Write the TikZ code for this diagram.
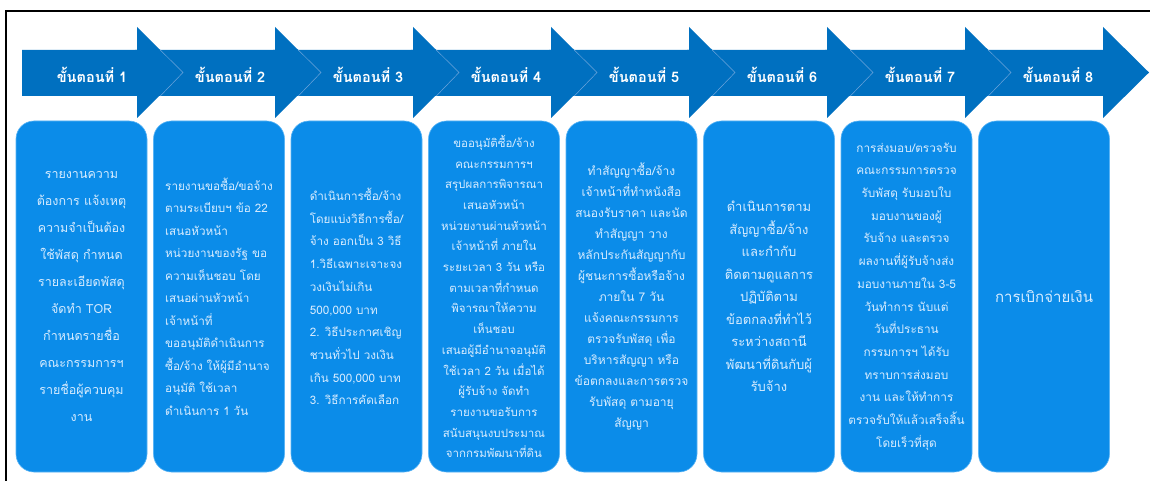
\documentclass[tikz,border=0pt]{standalone}
\usepackage{fontspec}
\newfontfamily\thaifont[Script=Thai]{Loma}
\definecolor{arrowblue}{RGB}{0,112,192}
\definecolor{arrowedge}{RGB}{110,165,220}
\definecolor{boxblue}{RGB}{11,140,233}
\definecolor{boxedge}{RGB}{90,180,245}
\definecolor{boxtext}{RGB}{215,236,255}
\begin{document}
\begin{tikzpicture}[x=1pt,y=-1pt,
  stepbox/.style={draw=boxedge, line width=0.6pt, fill=boxblue, rounded corners=18pt,
    minimum width=131pt, minimum height=351pt, inner sep=0pt, text=boxtext},
  steplabel/.style={text=white, font=\thaifont\bfseries\fontsize{14.5}{16}\selectfont, inner sep=0pt},
  arrowbody/.style={fill=arrowblue},
  notch/.style={draw=arrowedge, line width=0.5pt}]
\useasboundingbox (0,0) rectangle (1150,481);
\fill[white] (0,0) rectangle (1150,481);
\draw[line width=2pt] (6,481) -- (6,11) -- (1150,11);
% arrows, drawn from last to first so that each tip lies on the next shaft
\foreach \k in {8,7,...,1} {
  \pgfmathsetmacro\b{137+138*(\k-1)}
  \pgfmathsetmacro\s{\k==1 ? 22 : \b-140}
  \fill[arrowbody] (\s,50) -- (\b,50) -- (\b,27) -- (\b+46,72.5) -- (\b,118) -- (\b,96) -- (\s,96) -- cycle;
  \ifnum\k<8
    \draw[notch] (\b+23.3,50) -- (\b+46,72.5) -- (\b+23.3,96);
  \fi
  \node[steplabel] (lab\k) at (\b-45,75) {ขั้นตอนที่ \k};
}
% boxes
\node[stepbox, align=center, font=\thaifont\fontsize{12.5}{27}\selectfont] (box1) at (81.5,296.5)
{รายงานความ\\ต้องการ แจ้งเหตุ\\ความจำเป็นต้อง\\ใช้พัสดุ กำหนด\\รายละเอียดพัสดุ\\จัดทำ TOR\\กำหนดรายชื่อ\\คณะกรรมการฯ\\รายชื่อผู้ควบคุม\\งาน};
\node[stepbox, align=left, font=\thaifont\fontsize{11.7}{22.5}\selectfont] (box2) at (219,296.5)
{รายงานขอซื้อ/ขอจ้าง\\ตามระเบียบฯ ข้อ 22\\เสนอหัวหน้า\\หน่วยงานของรัฐ ขอ\\ความเห็นชอบ โดย\\เสนอผ่านหัวหน้า\\เจ้าหน้าที่\\ขออนุมัติดำเนินการ\\ซื้อ/จ้าง ให้ผู้มีอำนาจ\\อนุมัติ ใช้เวลา\\ดำเนินการ 1 วัน};
\node[stepbox, align=left, font=\thaifont\fontsize{11.7}{22.7}\selectfont] (box3) at (356.5,296.5)
{ดำเนินการซื้อ/จ้าง\\โดยแบ่งวิธีการซื้อ/\\จ้าง ออกเป็น 3 วิธี\\1.วิธีเฉพาะเจาะจง\\วงเงินไม่เกิน\\500,000 บาท\\2. วิธีประกาศเชิญ\\ชวนทั่วไป วงเงิน\\เกิน 500,000 บาท\\3. วิธีการคัดเลือก};
\node[stepbox, align=center, font=\thaifont\fontsize{11.5}{20.7}\selectfont] (box4) at (494,296.5)
{ขออนุมัติซื้อ/จ้าง\\คณะกรรมการฯ\\สรุปผลการพิจารณา\\เสนอหัวหน้า\\หน่วยงานผ่านหัวหน้า\\เจ้าหน้าที่ ภายใน\\ระยะเวลา 3 วัน หรือ\\ตามเวลาที่กำหนด\\พิจารณาให้ความ\\เห็นชอบ\\เสนอผู้มีอำนาจอนุมัติ\\ใช้เวลา 2 วัน เมื่อได้\\ผู้รับจ้าง จัดทำ\\รายงานขอรับการ\\สนับสนุนงบประมาณ\\จากกรมพัฒนาที่ดิน};
\node[stepbox, align=center, font=\thaifont\fontsize{12}{21}\selectfont] (box5) at (631.5,296.5)
{ทำสัญญาซื้อ/จ้าง\\เจ้าหน้าที่ทำหนังสือ\\สนองรับราคา และนัด\\ทำสัญญา วาง\\หลักประกันสัญญากับ\\ผู้ชนะการซื้อหรือจ้าง\\ภายใน 7 วัน\\แจ้งคณะกรรมการ\\ตรวจรับพัสดุ เพื่อ\\บริหารสัญญา หรือ\\ข้อตกลงและการตรวจ\\รับพัสดุ ตามอายุ\\สัญญา};
\node[stepbox, align=center, font=\thaifont\fontsize{13}{22.5}\selectfont] (box6) at (769,296.5)
{ดำเนินการตาม\\สัญญาซื้อ/จ้าง\\และกำกับ\\ติดตามดูแลการ\\ปฏิบัติตาม\\ข้อตกลงที่ทำไว้\\ระหว่างสถานี\\พัฒนาที่ดินกับผู้\\รับจ้าง};
\node[stepbox, align=center, font=\thaifont\fontsize{11.8}{22.7}\selectfont] (box7) at (906.5,296.5)
{การส่งมอบ/ตรวจรับ\\คณะกรรมการตรวจ\\รับพัสดุ รับมอบใบ\\มอบงานของผู้\\รับจ้าง และตรวจ\\ผลงานที่ผู้รับจ้างส่ง\\มอบงานภายใน 3-5\\วันทำการ นับแต่\\วันที่ประธาน\\กรรมการฯ ได้รับ\\ทราบการส่งมอบ\\งาน และให้ทำการ\\ตรวจรับให้แล้วเสร็จสิ้น\\โดยเร็วที่สุด};
\node[stepbox, align=center, font=\thaifont\fontsize{15}{17}\selectfont] (box8) at (1044,296.5)
{การเบิกจ่ายเงิน};
\end{tikzpicture}
\end{document}
